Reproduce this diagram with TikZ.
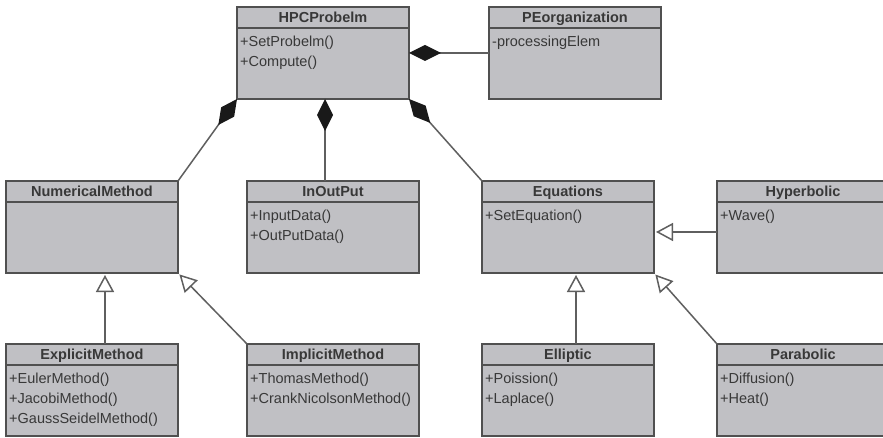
\documentclass[tikz,border=0pt]{standalone}
\usepackage{fontspec}
\setmainfont{Liberation Sans}
\usetikzlibrary{arrows.meta}
\definecolor{boxfill}{RGB}{192,192,196}
\definecolor{boxline}{RGB}{80,80,80}
\definecolor{conn}{RGB}{95,95,95}
\tikzset{
  clsbox/.style={draw=boxline, line width=1.6pt, fill=boxfill, anchor=north west,
    minimum width=172pt, minimum height=92pt, inner sep=0pt, outer sep=0pt},
  clssep/.style={draw=boxline, line width=1.6pt},
  clstitle/.style={font=\fontsize{14.5}{17}\selectfont\bfseries, text=black!78, anchor=base, inner sep=0pt},
  mem/.style={font=\fontsize{14.5}{17}\selectfont, text=black!78, anchor=base west, inner sep=0pt},
  comp/.style={draw=conn, line width=1.5pt, {Diamond[length=32pt,width=16pt,fill=black!90,color=black!90]}-},
  gen/.style={draw=conn, line width=1.5pt, shorten >=2pt, -{Triangle[open,length=17pt,width=18pt,fill=white]}},
}
\newcommand\umlbox[4]{%
  \node[clsbox] (#1) at (#2,#3) {};
  \draw[clssep] ([yshift=-21pt]#1.north west) -- ([yshift=-21pt]#1.north east);
  \node[clstitle] (#1-t) at ([yshift=-15.5pt]#1.north) {#4};
}
\begin{document}
\begin{tikzpicture}[x=1pt,y=-1pt]
\clip (0,0) rectangle (883,438);
\fill[white] (0,0) rectangle (883,438);
% boxes
\umlbox{hpc}{237}{7}{HPCProbelm}
\node[mem] (hpc-1) at ([xshift=3pt,yshift=-39.5pt]hpc.north west) {+SetProbelm()};
\node[mem] (hpc-2) at ([xshift=3pt,yshift=-59.5pt]hpc.north west) {+Compute()};

\umlbox{pe}{489}{7}{PEorganization}
\node[mem] (pe-1) at ([xshift=3pt,yshift=-39.5pt]pe.north west) {-processingElem};

\umlbox{num}{6}{181}{NumericalMethod}

\umlbox{io}{247}{181}{InOutPut}
\node[mem] (io-1) at ([xshift=3pt,yshift=-39.5pt]io.north west) {+InputData()};
\node[mem] (io-2) at ([xshift=3pt,yshift=-59.5pt]io.north west) {+OutPutData()};

\umlbox{eq}{482}{181}{Equations}
\node[mem] (eq-1) at ([xshift=3pt,yshift=-39.5pt]eq.north west) {+SetEquation()};

\umlbox{hyp}{717}{181}{Hyperbolic}
\node[mem] (hyp-1) at ([xshift=3pt,yshift=-39.5pt]hyp.north west) {+Wave()};

\umlbox{expl}{6}{344}{ExplicitMethod}
\node[mem] (expl-1) at ([xshift=3pt,yshift=-39.5pt]expl.north west) {+EulerMethod()};
\node[mem] (expl-2) at ([xshift=3pt,yshift=-59.5pt]expl.north west) {+JacobiMethod()};
\node[mem] (expl-3) at ([xshift=3pt,yshift=-79.5pt]expl.north west) {+GaussSeidelMethod()};

\umlbox{impl}{247}{344}{ImplicitMethod}
\node[mem] (impl-1) at ([xshift=3pt,yshift=-39.5pt]impl.north west) {+ThomasMethod()};
\node[mem] (impl-2) at ([xshift=3pt,yshift=-59.5pt]impl.north west) {+CrankNicolsonMethod()};

\umlbox{ell}{482}{344}{Elliptic}
\node[mem] (ell-1) at ([xshift=3pt,yshift=-39.5pt]ell.north west) {+Poission()};
\node[mem] (ell-2) at ([xshift=3pt,yshift=-59.5pt]ell.north west) {+Laplace()};

\umlbox{par}{717}{344}{Parabolic}
\node[mem] (par-1) at ([xshift=3pt,yshift=-39.5pt]par.north west) {+Diffusion()};
\node[mem] (par-2) at ([xshift=3pt,yshift=-59.5pt]par.north west) {+Heat()};

% compositions
\draw[comp] (hpc.east) -- (pe.west);
\draw[comp] (hpc.south west) -- (num.north east);
\draw[comp] ([xshift=2pt]hpc.south) -- ([xshift=2pt]hpc.south |- io.north);
\draw[comp] (hpc.south east) -- (eq.north west);
% generalisations
\draw[gen] ([xshift=13pt]expl.north) -- ([xshift=13pt]num.south);
\draw[gen] (impl.north west) -- (num.south east);
\draw[gen] ([xshift=8pt]ell.north) -- ([xshift=8pt]eq.south);
\draw[gen] (par.north west) -- (eq.south east);
\draw[gen] ([yshift=-5pt]hyp.west) -- ([yshift=-5pt]eq.east);
\end{tikzpicture}
\end{document}
